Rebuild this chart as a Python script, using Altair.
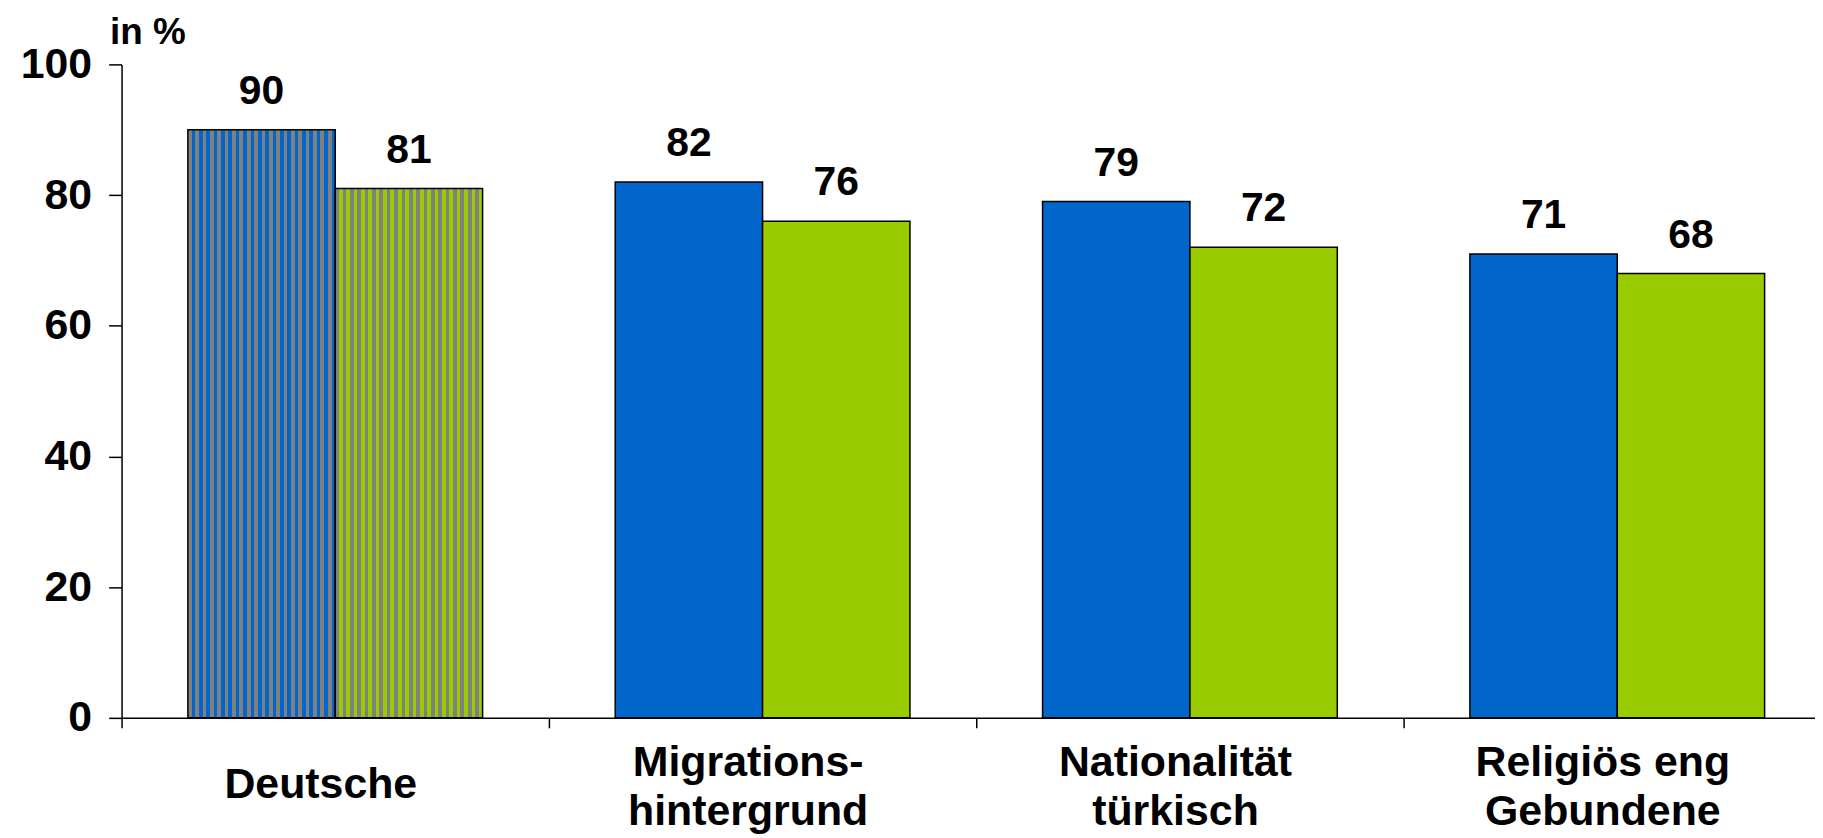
import altair as alt
import pandas as pd

# ---- data ----
categories = ["Deutsche", "Migrations-|hintergrund", "Nationalität|türkisch", "Religiös eng|Gebundene"]
series_names = ["Serie 1", "Serie 2"]
values_s1 = [90, 82, 79, 71]
values_s2 = [81, 76, 72, 68]
y_ticks = [0, 20, 40, 60, 80, 100]

rows = []
for c, a, b in zip(categories, values_s1, values_s2):
    rows.append({"category": c, "series": series_names[0], "value": a})
    rows.append({"category": c, "series": series_names[1], "value": b})
df = pd.DataFrame(rows)

FONT = "Liberation Sans"
BLUE = "#0066CC"
GREEN = "#99CC00"
GRAY = "#808080"


def stripes(col, n=20):
    stops = []
    for i in range(n):
        a = i / n
        m = (i + 0.5) / n
        b = (i + 1) / n
        stops += [
            alt.GradientStop(offset=a, color=GRAY),
            alt.GradientStop(offset=m, color=GRAY),
            alt.GradientStop(offset=m, color=col),
            alt.GradientStop(offset=b, color=col),
        ]
    return alt.LinearGradient(gradient="linear", stops=stops, x1=0, x2=1, y1=0, y2=0)


x_enc = alt.X(
    "category:N",
    sort=categories,
    scale=alt.Scale(range=[0, 1716], paddingInner=0, paddingOuter=0),
    axis=alt.Axis(
        title=None,
        labelExpr="split(datum.label, '|')",
        labelFont=FONT,
        labelFontSize=43,
        labelFontWeight="bold",
        labelColor="black",
        labelAngle=0,
        labelBaseline="middle",
        labelLineHeight=49,
        labelOffset=-15,
        labelPadding={"condition": {"test": "datum.value === 'Deutsche'", "value": 57}, "value": 35},
        labelLimit=600,
        tickBand="extent",
        tickSize=10,
        tickColor="black",
        tickWidth=1.5,
        domainColor="black",
        domainWidth=1.5,
    ),
)
xoff_enc = alt.XOffset(
    "series:N", sort=series_names, scale=alt.Scale(paddingOuter=0.45, paddingInner=0)
)
y_enc = alt.Y(
    "value:Q",
    scale=alt.Scale(domain=[0, 100], nice=False),
    axis=alt.Axis(
        values=y_ticks,
        grid=False,
        title="in %",
        titleAngle=0,
        titleX=-12,
        titleY=-21,
        titleAlign="left",
        titleBaseline="alphabetic",
        titleFont=FONT,
        titleFontSize=37,
        titleFontWeight="bold",
        titleColor="black",
        labelFont=FONT,
        labelFontSize=43,
        labelFontWeight="bold",
        labelColor="black",
        labelPadding=17,
        tickSize=13,
        tickColor="black",
        tickWidth=1.5,
        domainColor="black",
        domainWidth=1.5,
    ),
)

base = alt.Chart(df)

solid = base.mark_bar(stroke="black", strokeWidth=1.5).encode(
    x=x_enc,
    xOffset=xoff_enc,
    y=y_enc,
    fill=alt.Fill("series:N", scale=alt.Scale(domain=series_names, range=[BLUE, GREEN]), legend=None),
).transform_filter(alt.datum.category != categories[0])

striped_a = base.mark_bar(stroke="black", strokeWidth=1.5, fill=stripes(BLUE)).encode(
    x=x_enc, xOffset=xoff_enc, y=y_enc
).transform_filter(
    (alt.datum.category == categories[0]) & (alt.datum.series == series_names[0])
)

striped_b = base.mark_bar(stroke="black", strokeWidth=1.5, fill=stripes(GREEN)).encode(
    x=x_enc, xOffset=xoff_enc, y=y_enc
).transform_filter(
    (alt.datum.category == categories[0]) & (alt.datum.series == series_names[1])
)

labels = base.mark_text(
    dy=-26, baseline="alphabetic", align="center", font=FONT, fontSize=41,
    fontWeight="bold", color="black"
).encode(x=x_enc, xOffset=xoff_enc, y=y_enc, text=alt.Text("value:Q"))

chart = (
    alt.layer(solid, striped_a, striped_b, labels)
    .properties(
        width=1700,
        height=656,
        autosize=alt.AutoSizeParams(type="none"),
        padding={"left": 114, "top": 55, "right": 0, "bottom": 121},
        background="white",
    )
    .configure_view(stroke=None)
)

chart.save("out.html", embed_options={"renderer": "svg", "actions": False})
